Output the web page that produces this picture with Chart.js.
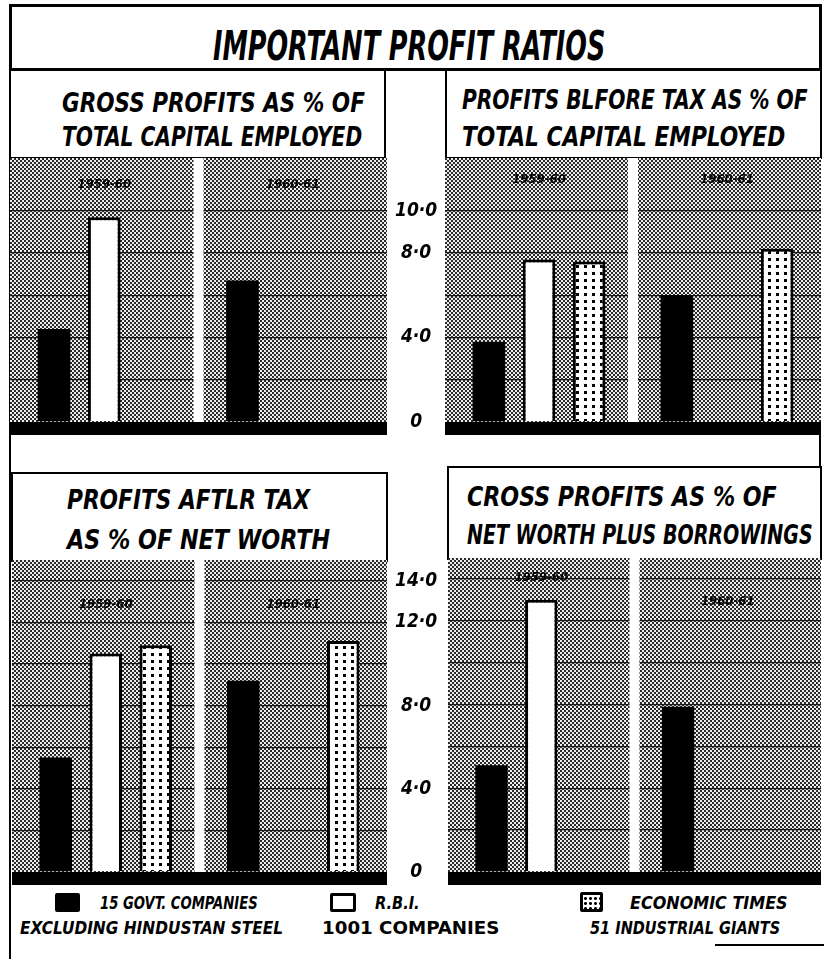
<!DOCTYPE html>
<html><head><meta charset="utf-8">
<script src="https://cdn.jsdelivr.net/npm/chart.js@4.4.1/dist/chart.umd.min.js"></script>
<style>
html,body{margin:0;padding:0;background:#fff;}
body{width:824px;height:959px;overflow:hidden;position:relative;font-family:"Liberation Sans Narrow","DejaVu Sans Condensed","DejaVu Sans",sans-serif;}
.box{position:absolute;border:2px solid #000;background:#fff;box-sizing:border-box;}
.line{position:absolute;background:#000;}
.txt{position:absolute;white-space:nowrap;font-weight:bold;font-style:italic;transform-origin:left center;line-height:1;color:#000;}
.cv{position:absolute;}
.key{position:absolute;box-sizing:border-box;}
</style></head><body>

<div class="line" style="left:9px;top:4px;width:2px;height:955px"></div>
<div class="line" style="left:819px;top:4px;width:2px;height:466px"></div>
<div class="box" style="left:9px;top:4px;width:813px;height:67px;border-width:3px"></div>
<div class="box" style="left:9px;top:69px;width:377px;height:90px"></div>
<div class="box" style="left:445px;top:69px;width:377px;height:90px"></div>
<div class="box" style="left:11px;top:472px;width:377px;height:90px"></div>
<div class="box" style="left:447px;top:466px;width:375px;height:94px"></div>
<div class="line" style="left:715px;top:944px;width:109px;height:2px"></div>

<canvas id="cTL" class="cv" style="left:10px;top:158px" width="435" height="277"></canvas>
<canvas id="cTR" class="cv" style="left:445px;top:158px" width="376" height="277"></canvas>
<canvas id="cBL" class="cv" style="left:12px;top:560px" width="433" height="325"></canvas>
<canvas id="cBR" class="cv" style="left:448px;top:558px" width="373" height="327"></canvas>

<div class="txt" data-w="392" style="left:213px;top:26px;font-size:40px">IMPORTANT PROFIT RATIOS</div>
<div class="txt" data-w="303" style="left:62px;top:89px;font-size:27px">GROSS PROFITS AS % OF</div>
<div class="txt" data-w="300" style="left:62px;top:123px;font-size:27px">TOTAL CAPITAL EMPLOYED</div>
<div class="txt" data-w="346" style="left:462px;top:86px;font-size:27px">PROFITS BLFORE TAX AS % OF</div>
<div class="txt" data-w="323" style="left:462px;top:123px;font-size:27px">TOTAL CAPITAL EMPLOYED</div>
<div class="txt" data-w="243" style="left:67px;top:486px;font-size:27px">PROFITS AFTLR TAX</div>
<div class="txt" data-w="263" style="left:67px;top:526px;font-size:27px">AS % OF NET WORTH</div>
<div class="txt" data-w="310" style="left:467px;top:483px;font-size:27px">CROSS PROFITS AS % OF</div>
<div class="txt" data-w="346" style="left:467px;top:521px;font-size:27px">NET WORTH PLUS BORROWINGS</div>

<div class="key" style="left:55px;top:893px;width:25px;height:19px;background:#000;border-radius:2px"></div>
<div class="key" style="left:330px;top:893px;width:26px;height:19px;border:3px solid #000;border-radius:2px;background:#fff"></div>
<div class="key" style="left:580px;top:892px;width:23px;height:20px;border:3px solid #000;border-radius:2px;background:#fff;background-image:radial-gradient(#000 1.2px,transparent 1.7px);background-size:5px 5px;background-position:0 1px"></div>
<div class="txt" data-w="158" style="left:100px;top:894px;font-size:18px">15 GOVT. COMPANIES</div>
<div class="txt" data-w="263" style="left:20px;top:919px;font-size:18px">EXCLUDING HINDUSTAN STEEL</div>
<div class="txt" data-w="45" style="left:375px;top:894px;font-size:18px">R.B.I.</div>
<div class="txt" data-w="178" style="left:322px;top:919px;font-size:18px;font-style:normal">1001 COMPANIES</div>
<div class="txt" data-w="158" style="left:630px;top:894px;font-size:18px">ECONOMIC TIMES</div>
<div class="txt" data-w="190" style="left:590px;top:919px;font-size:18px">51 INDUSTRIAL GIANTS</div>

<script>
// ---------- DATA ----------
const categories = ['1959-60', '1960-61'];
const seriesNames = ['15 GOVT. COMPANIES', 'R.B.I. 1001 COMPANIES', 'ECONOMIC TIMES 51 INDUSTRIAL GIANTS'];

// Gross profits as % of total capital employed
const grossCapGovt = [4.4, 6.7];
const grossCapRbi  = [9.7, null];
const grossCapEt   = [null, null];
// Profits before tax as % of total capital employed
const beforeTaxGovt = [3.8, 6.0];
const beforeTaxRbi  = [7.7, null];
const beforeTaxEt   = [7.6, 8.2];
// Profits after tax as % of net worth
const afterTaxGovt = [5.5, 9.2];
const afterTaxRbi  = [10.5, null];
const afterTaxEt   = [10.9, 11.1];
// Gross profits as % of net worth plus borrowings
const grossNwGovt = [5.1, 7.9];
const grossNwRbi  = [13.0, null];
const grossNwEt   = [null, null];

const topTicks = [0, 4, 8, 10];
const topTickLabels = ['0', '4·0', '8·0', '10·0'];
const bottomTicks = [0, 4, 8, 12, 14];
const bottomTickLabels = ['0', '4·0', '8·0', '12·0', '14·0'];

// ---------- PATTERNS ----------
function makeChecker(){
  const c = document.createElement('canvas'); c.width = 4; c.height = 4;
  const g = c.getContext('2d');
  g.fillStyle = '#eeeeee'; g.fillRect(0,0,4,4);
  g.fillStyle = '#2a2a2a'; g.fillRect(0,0,2,2); g.fillRect(2,2,2,2);
  return g.createPattern(c, 'repeat');
}
function makeDots(){
  const c = document.createElement('canvas'); c.width = 8; c.height = 7;
  const g = c.getContext('2d');
  g.fillStyle = '#fff'; g.fillRect(0,0,8,7);
  g.fillStyle = '#000'; g.fillRect(3,2,3,3);
  return g.createPattern(c, 'repeat');
}
const checker = makeChecker();
const dots = makeDots();

const FONT = '"DejaVu Sans Condensed","DejaVu Sans",sans-serif';

const panelPlugin = {
  id: 'panel',
  beforeDraw(chart){
    const {ctx, chartArea: a} = chart;
    ctx.save();
    ctx.fillStyle = checker;
    ctx.fillRect(a.left, a.top, a.width, a.height);
    ctx.restore();
  },
  beforeDatasetsDraw(chart, args, opts){
    const {ctx, chartArea: a} = chart;
    const x = chart.scales.x;
    const mid = (x.getPixelForValue(0) + x.getPixelForValue(1)) / 2;
    ctx.save();
    ctx.fillStyle = '#fff';
    ctx.fillRect(mid - 5, a.top, 10, a.height);
    ctx.fillStyle = '#000';
    ctx.fillRect(a.left, a.bottom, a.width, 13);
    ctx.font = 'italic bold 13px ' + FONT;
    ctx.textAlign = 'center';
    ctx.textBaseline = 'middle';
    ctx.fillStyle = '#000';
    categories.forEach((c, i) => {
      ctx.fillText(c, x.getPixelForValue(i), a.top + opts.labelOffsets[i]);
    });
    ctx.restore();
  }
};

function makeChart(id, govt, rbi, et, yMax, gridMax, showAxis, ticksArr, labelsArr, labelOffsets){
  const datasets = [
    {label: seriesNames[0], data: govt, backgroundColor: '#000', borderWidth: 0},
    {label: seriesNames[1], data: rbi, backgroundColor: '#fff', borderColor: '#000', borderWidth: 3},
    {label: seriesNames[2], data: et, backgroundColor: dots, borderColor: '#000', borderWidth: 3}
  ];
  return new Chart(document.getElementById(id), {
    type: 'bar',
    data: {labels: categories, datasets},
    plugins: [panelPlugin],
    options: {
      responsive: false, animation: false, events: [],
      devicePixelRatio: 1,
      layout: {padding: {left: 0, right: 0, top: 0, bottom: 13}},
      datasets: {bar: {categoryPercentage: 0.8, barPercentage: 0.65}},
      plugins: {legend: {display: false}, tooltip: {enabled: false}, panel: {labelOffsets}},
      scales: {
        x: {display: false},
        y: {
          position: showAxis ? 'right' : 'left',
          min: 0, max: yMax,
          border: {display: false},
          grid: {
            drawTicks: false,
            lineWidth: 1.3,
            color: c => (c.tick && c.tick.value > 0 && c.tick.value <= gridMax) ? '#1a1a1a' : 'rgba(0,0,0,0)'
          },
          ticks: {
            display: showAxis,
            stepSize: 2, includeBounds: false, autoSkip: false,
            crossAlign: 'center', padding: 8, color: '#000',
            font: {family: FONT, size: 19, style: 'italic', weight: 'bold'},
            callback: v => { const i = ticksArr.indexOf(v); return i >= 0 ? labelsArr[i] : ''; }
          },
          afterFit: s => { s.width = showAxis ? 58 : 0; s.paddingTop = 0; s.paddingBottom = 0; }
        }
      }
    }
  });
}

function fitTexts(){
  document.querySelectorAll('.txt[data-w]').forEach(el => {
    const w = el.offsetWidth;
    if (w > 0) el.style.transform = 'scaleX(' + (parseFloat(el.dataset.w) / w) + ')';
  });
}

function init(){
  fitTexts();
  makeChart('cTL', grossCapGovt, grossCapRbi, grossCapEt, 12.5, 10, true, topTicks, topTickLabels, [27, 27]);
  makeChart('cTR', beforeTaxGovt, beforeTaxRbi, beforeTaxEt, 12.5, 10, false, topTicks, topTickLabels, [22, 22]);
  makeChart('cBL', afterTaxGovt, afterTaxRbi, afterTaxEt, 15, 14, true, bottomTicks, bottomTickLabels, [45, 45]);
  makeChart('cBR', grossNwGovt, grossNwRbi, grossNwEt, 15, 14, false, bottomTicks, bottomTickLabels, [20, 44]);
}
if (document.fonts && document.fonts.ready) document.fonts.ready.then(init); else init();
</script>
</body></html>
